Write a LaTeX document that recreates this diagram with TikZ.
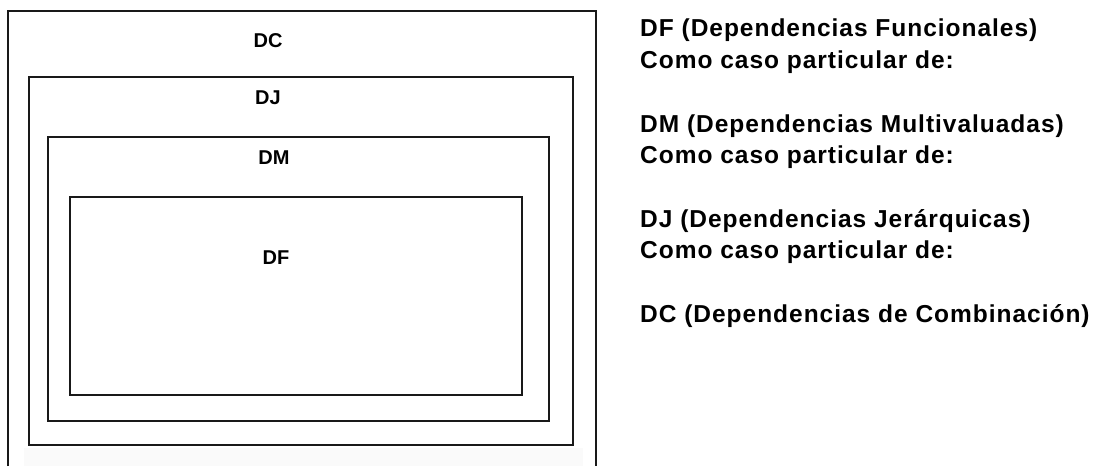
\documentclass[tikz,border=0pt]{standalone}
\usepackage{fontspec}
\setmainfont{Liberation Sans}
\newfontfamily\notefont[LetterSpace=4]{Liberation Sans}
\begin{document}
\begin{tikzpicture}[x=1pt,y=-1pt,
  setbox/.style={draw=black!90, line width=2pt, rectangle, inner sep=0pt},
  setlabel/.style={font=\bfseries\fontsize{20}{22}\selectfont, inner sep=0pt},
  note/.style={font=\notefont\bfseries\fontsize{24.5}{28}\selectfont, anchor=base west, inner sep=0pt}]
  \useasboundingbox (0,0) rectangle (1100,466);
  \fill[white] (0,0) rectangle (1100,466);
  % faint strip under the nested sets
  \fill[black!2] (24,448) rectangle (583,466);
  % outermost set (DC), open at the bottom
  \coordinate (dcbl) at (8,466);
  \coordinate (dctl) at (8,11);
  \coordinate (dctr) at (596,11);
  \coordinate (dcbr) at (596,466);
  \draw[draw=black!90, line width=2.2pt] (dcbl) -- (dctl) -- (dctr) -- (dcbr);
  % nested sets
  \node[setbox, minimum width=544, minimum height=368] (dj) at (301,261) {};
  \node[setbox, minimum width=501, minimum height=284] (dm) at (298.5,279) {};
  \node[setbox, minimum width=452, minimum height=198] (df) at (296,296) {};
  % set labels
  \node[setlabel] (ldc) at (268,41) {DC};
  \node[setlabel] (ldj) at (268,98) {DJ};
  \node[setlabel] (ldm) at (274,158) {DM};
  \node[setlabel] (ldf) at (276,258) {DF};
  % explanatory text
  \node[note] (t1) at (640,36) {DF (Dependencias Funcionales)};
  \node[note] (t2) at (640,68) {Como caso particular de:};
  \node[note] (t3) at (640,132) {DM (Dependencias Multivaluadas)};
  \node[note] (t4) at (640,163) {Como caso particular de:};
  \node[note] (t5) at (640,227) {DJ (Dependencias Jerárquicas)};
  \node[note] (t6) at (640,258) {Como caso particular de:};
  \node[note] (t7) at (640,322) {DC (Dependencias de Combinación)};
\end{tikzpicture}
\end{document}
